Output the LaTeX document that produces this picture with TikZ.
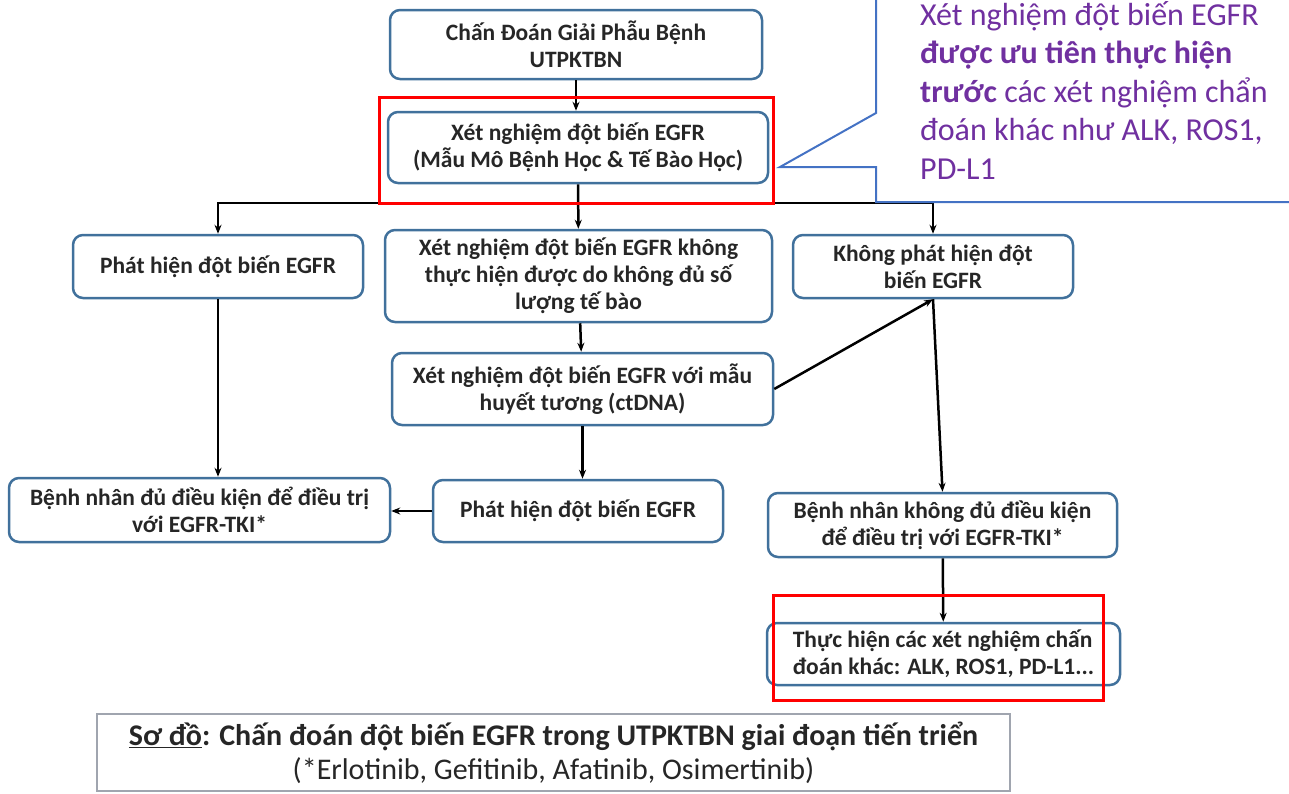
\documentclass[tikz,border=0pt]{standalone}
\usepackage{fontspec}
\setmainfont{Carlito}
\usetikzlibrary{positioning,arrows.meta}
\definecolor{boxblue}{RGB}{65,113,156}
\definecolor{callblue}{RGB}{68,114,196}
\definecolor{notepurple}{RGB}{112,48,160}
\definecolor{capgray}{RGB}{160,165,175}

\begin{document}
\begin{tikzpicture}[x=1pt,y=-1pt,>={Stealth[length=9pt,width=7pt]},
  box/.style={draw=boxblue,line width=2.5pt,rounded corners=10pt,align=center,inner sep=0pt,
    font=\fontsize{23.5}{27}\selectfont\bfseries,text=black!85},
  link/.style={->,line width=2.5pt},
  redframe/.style={draw=red,line width=3pt}]
\useasboundingbox (0,0) rectangle (1289,793);
\node[box,minimum width=372pt,minimum height=69pt] (top) at (576,44.5) {Chấn Đoán Giải Phẫu Bệnh\\UTPKTBN};
\node[box,minimum width=380pt,minimum height=71pt] (egfr) at (578,147.5) {Xét nghiệm đột biến EGFR\\(Mẫu Mô Bệnh Học \& Tế Bào Học)};
\node[box,minimum width=290pt,minimum height=63pt] (found) at (218,266.5) {Phát hiện đột biến EGFR};
\node[box,minimum width=387pt,minimum height=92pt] (fail) at (578.5,276) {Xét nghiệm đột biến EGFR không\\thực hiện được do không đủ số\\lượng tế bào};
\node[box,minimum width=280pt,minimum height=63pt] (notfound) at (933,266.5) {Không phát hiện đột\\biến EGFR};
\node[box,minimum width=381pt,minimum height=72pt] (plasma) at (582.5,389) {Xét nghiệm đột biến EGFR với mẫu\\huyết tương (ctDNA)};
\node[box,minimum width=290pt,minimum height=62pt] (found2) at (578,511) {Phát hiện đột biến EGFR};
\node[box,minimum width=381pt,minimum height=64pt] (eligible) at (199.5,510) {Bệnh nhân đủ điều kiện để điều trị\\với EGFR-TKI*};
\node[box,minimum width=349pt,minimum height=64pt] (noteligible) at (942.5,525) {Bệnh nhân không đủ điều kiện\\để điều trị với EGFR-TKI*};
\node[box,minimum width=353pt,minimum height=62pt,align=left] (other) at (943.5,654) {Thực hiện các xét nghiệm chấn\\đoán khác: ALK, ROS1, PD-L1...};

\coordinate (split) at (578,203);
\draw[link] (top) -- (top|-egfr.north);
\draw[link] (egfr) -- (fail);
\draw[link] (split) -| (found);
\draw[link] (split) -| (notfound);
\draw[link] (fail) -- (plasma);
\draw[link] (plasma.south) -- (plasma.south|-found2.north);
\draw[link] (found) -- (found|-eligible.north);
\draw[link] (found2.west) -- (found2.west-|eligible.east);
\draw[link] (plasma.east) -- (notfound.south);
\draw[link] (notfound.south) -- (noteligible.north);
\draw[link] (noteligible) -- (other);

\node[redframe,minimum width=394pt,minimum height=106pt] (frame1) at (576,150) {};
\node[redframe,minimum width=330pt,minimum height=105pt] (frame2) at (938,647.5) {};

\draw[callblue,line width=2pt] (876,-5) -- (876,113) -- (780,167) -- (876,167) -- (876,202) -- (1295,202);
\node[anchor=north west,inner sep=0pt,align=left,text=notepurple,font=\fontsize{32}{38.5}\selectfont] (note) at (920,1)
  {Xét nghiệm đột biến EGFR\\\textbf{được ưu tiên thực hiện}\\\textbf{trước} các xét nghiệm chẩn\\đoán khác như ALK, ROS1,\\PD-L1};

\node[draw=capgray,line width=2pt,minimum width=913pt,minimum height=77pt,align=center,text=black!85,
  font=\fontsize{30}{34}\selectfont] (caption) at (553.5,752.5)
  {\textbf{\underline{Sơ đồ}: Chấn đoán đột biến EGFR trong UTPKTBN giai đoạn tiến triển}\\(*Erlotinib, Gefitinib, Afatinib, Osimertinib)};
\end{tikzpicture}
\end{document}
